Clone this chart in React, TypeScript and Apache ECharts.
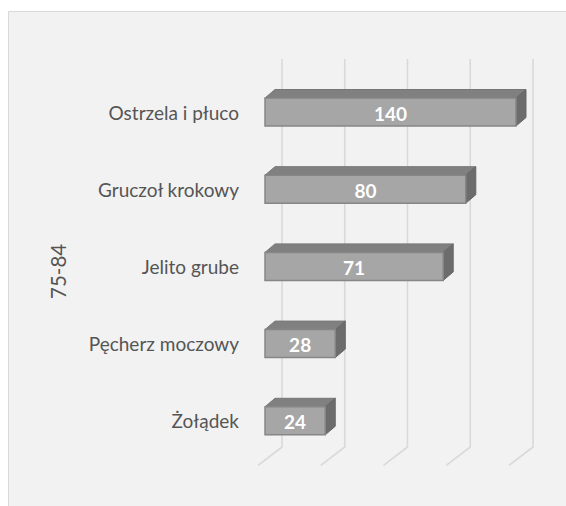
import React, { useEffect, useRef } from "react";
import * as echarts from "echarts";

const categories = ["Ostrzela i płuco", "Gruczoł krokowy", "Jelito grube", "Pęcherz moczowy", "Żołądek"];
const values = [140, 80, 71, 28, 24];
const axisName = "75-84";
const axisMin = 0;
const axisMax = 100;
const axisInterval = 25;
const gridTicks = [0, 25, 50, 75, 100];

const FONT = "Lato, 'Noto Sans', sans-serif";

export default function App() {
  const ref = useRef<HTMLDivElement>(null);
  useEffect(() => {
    if (!ref.current) return;
    const chart = echarts.init(ref.current, null, { renderer: "svg" });
    const depthX = 10;
    const depthY = -8.5;
    const faceH = 28;
    chart.setOption({
      animation: false,
      backgroundColor: "#ffffff",
      graphic: [
        {
          type: "rect",
          z: -10,
          silent: true,
          shape: { x: 8.5, y: 11.5, width: 620, height: 560 },
          style: { fill: "#f2f2f2", stroke: "#d9d9d9", lineWidth: 1 },
        },
      ],
      grid: { left: 265, right: 50, top: 73.4, bottom: 46.6, containLabel: false },
      xAxis: {
        type: "value",
        min: axisMin,
        max: axisMax,
        interval: axisInterval,
        axisLine: { show: false },
        axisTick: { show: false },
        axisLabel: { show: false },
        splitLine: { show: false },
      },
      yAxis: {
        type: "category",
        inverse: true,
        data: categories,
        axisLine: { show: false },
        axisTick: { show: false },
        axisLabel: {
          margin: 26,
          color: "#555555",
          fontFamily: FONT,
          fontSize: 19,
          padding: [9, 0, 0, 0],
        },
        name: axisName,
        nameLocation: "middle",
        nameRotate: 90,
        nameGap: 197,
        nameTextStyle: { color: "#555555", fontFamily: FONT, fontSize: 20.5, padding: [0, 10, 0, 0] },
      },
      series: [
        {
          type: "custom",
          silent: true,
          z: 1,
          data: gridTicks.map((t) => [t]),
          encode: { x: 0 },
          renderItem: (params: any, api: any) => {
            const cs = params.coordSys;
            const x = api.coord([api.value(0), 0])[0];
            const top = cs.y - 14.4;
            const bot = cs.y + cs.height - 12.4;
            const front = cs.y + cs.height + 6;
            return {
              type: "polyline",
              shape: { points: [[x + 17, top], [x + 17, bot], [x - 7, front]] },
              style: { stroke: "#d9d9d9", lineWidth: 1.6, fill: "none" },
            };
          },
        },
        {
          type: "custom",
          z: 3,
          data: values.map((v, i) => [v, i]),
          encode: { x: 0, y: 1 },
          renderItem: (params: any, api: any) => {
            const v = api.value(0);
            const cat = api.value(1);
            const p0 = api.coord([axisMin, cat]);
            const p1 = api.coord([Math.min(v, axisMax), cat]);
            const x0 = p0[0];
            const x1 = p1[0];
            const yc = p0[1];
            const yt = yc - faceH / 2;
            const yb = yc + faceH / 2;
            return {
              type: "group",
              children: [
                {
                  type: "polygon",
                  shape: { points: [[x0, yt], [x0 + depthX, yt + depthY], [x1 + depthX, yt + depthY], [x1, yt]] },
                  style: { fill: "#808080", stroke: "#767676", lineWidth: 1 },
                },
                {
                  type: "polygon",
                  shape: { points: [[x1, yt], [x1 + depthX, yt + depthY], [x1 + depthX, yb + depthY], [x1, yb]] },
                  style: { fill: "#6c6c6c", stroke: "#666666", lineWidth: 1 },
                },
                {
                  type: "rect",
                  shape: { x: x0, y: yt, width: x1 - x0, height: faceH },
                  style: { fill: "#a6a6a6", stroke: "#868686", lineWidth: 1.5 },
                },
                {
                  type: "text",
                  style: {
                    text: String(v),
                    x: (x0 + x1) / 2,
                    y: yc + 1,
                    align: "center",
                    verticalAlign: "middle",
                    fill: "#ffffff",
                    font: `bold 19px ${FONT}`,
                  },
                },
              ],
            };
          },
        },
      ],
    });
    return () => chart.dispose();
  }, []);
  return (
    <div
      ref={ref}
      style={{ position: "fixed", left: 0, top: 0, width: 566, height: 506 }}
    />
  );
}
